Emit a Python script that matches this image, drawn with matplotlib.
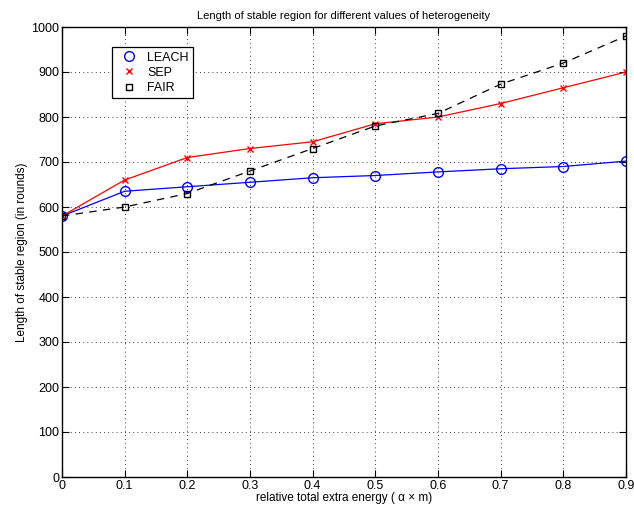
import numpy as np
from matplotlib import pyplot as plt
from matplotlib.lines import Line2D

plt.rcParams['font.family'] = ['Liberation Sans', 'DejaVu Sans']

x_vals = [0, 0.1, 0.2, 0.3, 0.4, 0.5, 0.6, 0.7, 0.8, 0.9]
leach = [580, 635, 645, 655, 665, 670, 678, 685, 690, 702]
sep = [580, 660, 710, 730, 745, 785, 800, 830, 865, 900]
fair = [580, 600, 630, 680, 730, 780, 808, 873, 920, 980]
names = ['LEACH', 'SEP', 'FAIR']

fig = plt.figure(figsize=(6.34, 5.08), dpi=100)
ax = fig.add_axes([62 / 634, 1 - 477 / 508, 564 / 634, 450 / 508])

ax.plot(x_vals, leach, color='blue', marker='o', mfc='none', ms=7, lw=0.9)
ax.plot(x_vals, sep, color='red', marker='x', ms=5, lw=0.9)
ax.plot(x_vals, fair, color='black', marker='s', mfc='none', ms=5, lw=0.9,
        ls=(0, (6, 5)))

ax.set_xlim(0, 0.9)
ax.set_ylim(0, 1000)
ax.set_xticks(np.arange(0, 0.91, 0.1))
ax.set_xticklabels(['0', '0.1', '0.2', '0.3', '0.4', '0.5', '0.6', '0.7', '0.8', '0.9'])
ax.set_yticks(np.arange(0, 1001, 100))
ax.tick_params(direction='in', top=True, right=True, labelsize=9, length=5, pad=2)
ax.grid(True, color='black', ls=(0, (1, 4)), lw=0.6)
for s in ax.spines.values():
    s.set_linewidth(1.0)

ax.set_title('Length of stable region for different values of heterogeneity', fontsize=8)
ax.set_xlabel('relative total extra energy ( α × m)', fontsize=8.5, labelpad=0)
ax.set_ylabel('Length of stable region (in rounds)', fontsize=8.5, labelpad=2)

handles = [
    Line2D([], [], ls='none', color='blue', marker='o', mfc='none', ms=7),
    Line2D([], [], ls='none', color='red', marker='x', ms=5),
    Line2D([], [], ls='none', color='black', marker='s', mfc='none', ms=5),
]
leg = ax.legend(handles, names, loc='upper left', bbox_to_anchor=(0.088, 0.955),
                fontsize=9, fancybox=False, edgecolor='black', framealpha=1,
                handlelength=2.0, borderpad=0.35, labelspacing=0.25,
                handletextpad=0.5, borderaxespad=0)
leg.get_frame().set_linewidth(0.9)

fig.savefig('out.png')
